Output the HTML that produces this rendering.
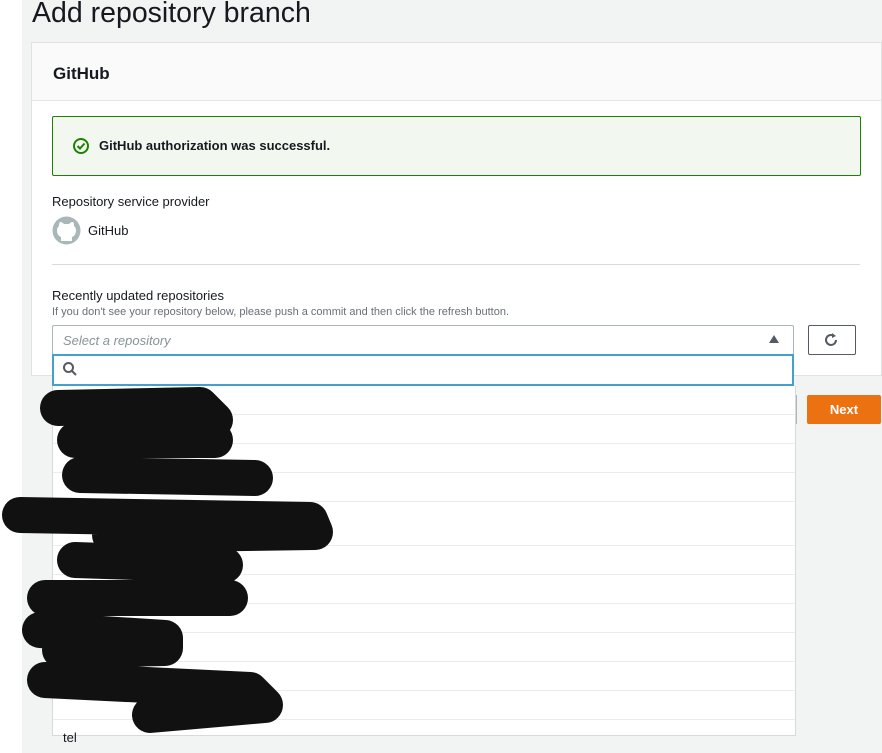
<!DOCTYPE html>
<html><head><style>
body{margin:0;width:882px;height:753px;overflow:hidden;background:#fff;font-family:"Liberation Sans",sans-serif;position:relative}
.bg{position:absolute;left:22px;top:0;width:860px;height:753px;background:#f2f3f3}
h1{position:absolute;left:32px;top:-3px;margin:0;font-weight:normal;font-size:28.5px;color:#16191f}
.card{position:absolute;left:31px;top:42px;width:849px;height:332px;background:#fff;border:1px solid #e0e2e2}
.hdr{height:58px;background:#fafafa;border-bottom:1px solid #e5e6e6;font-weight:bold;font-size:17px;color:#16191f;padding:21px 0 0 21px;box-sizing:border-box}
.abs{position:absolute}
.txt{font-size:13px;color:#16191f}
.list{position:absolute;left:52px;top:386px;width:742px;height:349px;background:#fff;border:1px solid #d5dbdb;border-top:none}
.row{height:28px;border-bottom:1px solid #eaeded}
</style></head><body>
<div class="bg"></div>
<h1>Add repository branch</h1>
<div class="card"><div class="hdr">GitHub</div></div>
<div class="abs" style="left:52px;top:116px;width:807px;height:58px;background:#f2f8f0;border:1px solid #1d8102;border-radius:2px"></div>
<svg class="abs" style="left:72px;top:137px" width="18" height="18"><circle cx="9" cy="9" r="7" fill="none" stroke="#1d8102" stroke-width="2"/><path d="M5.5 9l2.5 2.5 4.5-5" fill="none" stroke="#1d8102" stroke-width="2"/></svg>
<div class="abs txt" style="left:99px;top:138px;font-weight:bold">GitHub authorization was successful.</div>
<div class="abs txt" style="left:52px;top:194px">Repository service provider</div>
<svg class="abs" style="left:52px;top:216px" width="29" height="29"><circle cx="14.5" cy="14.5" r="14" fill="#aab7b8"/><path d="M9 25v-4c-3-1-4-4-4-7 0-2 1-3 2-4 0-1 0-3 1-4 2 0 3 1 4 2h5c1-1 2-2 4-2 1 1 1 3 1 4 1 1 2 2 2 4 0 3-1 6-4 7v4z" fill="#fff"/></svg>
<div class="abs txt" style="left:88px;top:223px">GitHub</div>
<div class="abs" style="left:52px;top:264px;width:808px;height:1px;background:#d5dbdb"></div>
<div class="abs txt" style="left:52px;top:288px">Recently updated repositories</div>
<div class="abs" style="left:52px;top:306px;font-size:11px;color:#687078">If you don't see your repository below, please push a commit and then click the refresh button.</div>
<div class="abs" style="left:52px;top:325px;width:740px;height:28px;border:1px solid #aab7b8;border-radius:2px;background:#fff"></div>
<div class="abs" style="left:63px;top:333px;font-size:13px;font-style:italic;color:#879596">Select a repository</div>
<div class="abs" style="left:769px;top:335px;width:0;height:0;border-left:5px solid transparent;border-right:5px solid transparent;border-bottom:8px solid #545b64"></div>
<div class="abs" style="left:808px;top:325px;width:46px;height:28px;border:1px solid #545b64;border-radius:2px;background:#fff"></div>
<svg class="abs" style="left:822px;top:331px" width="18" height="18"><path d="M14 9a5 5 0 1 1-2-4" fill="none" stroke="#545b64" stroke-width="2"/><path d="M10 2l4 3-4 2z" fill="#545b64"/></svg>
<div class="abs" style="left:796px;top:395px;width:1px;height:29px;background:#aab7b8"></div>
<div class="abs" style="left:807px;top:395px;width:74px;height:29px;background:#ec7211;border-radius:2px;color:#fff;font-weight:bold;font-size:13px;text-align:center;line-height:29px">Next</div>
<div class="list"><div class="row"></div><div class="row"></div><div class="row"></div><div class="row"></div><div class="row" style="height:43px"></div><div class="row"></div><div class="row"></div><div class="row"></div><div class="row"></div><div class="row"></div><div class="row"></div></div>
<div class="abs" style="left:52px;top:354px;width:738px;height:28px;border:2px solid #44a1c9;background:#fff"></div>
<svg class="abs" style="left:62px;top:361px" width="16" height="16"><circle cx="6.5" cy="6.5" r="4.5" fill="none" stroke="#545b64" stroke-width="2"/><path d="M10 10l4 4" stroke="#545b64" stroke-width="2"/></svg>
<div class="abs txt" style="left:63px;top:583px">imm</div>
<div class="abs txt" style="left:63px;top:730px">tel</div>
<svg class="abs" style="left:0;top:0" width="882" height="753"><g fill="none" stroke="#111" stroke-width="36" stroke-linecap="round" stroke-linejoin="round">
<path d="M58 408 L200 405 L215 420"/>
<path d="M75 440 L215 440"/>
<path d="M80 475 L255 478"/>
<path d="M20 515 L310 520 L315 532 L110 535"/>
<path d="M75 560 L225 565"/>
<path d="M45 598 L230 598"/>
<path d="M40 630 L165 638 L165 648 L60 650"/>
<path d="M45 680 L250 690 L265 705 L150 715"/>
</g></svg>
</body></html>
